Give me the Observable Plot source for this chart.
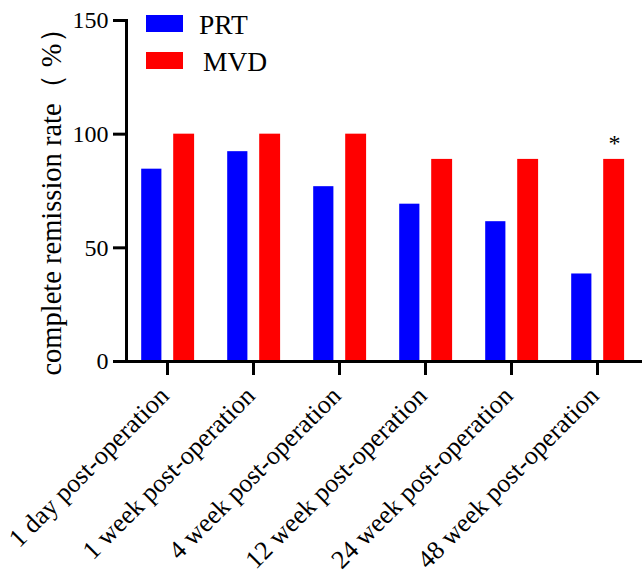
<!DOCTYPE html>
<html>
<head>
<meta charset="utf-8">
<script src="https://cdn.jsdelivr.net/npm/d3@7"></script>
<script src="https://cdn.jsdelivr.net/npm/@observablehq/plot@0.6"></script>
<style>
  body { margin: 0; background: #fff; }
  #chart { position: relative; width: 643px; height: 582px; font-family: "Liberation Serif", "Times New Roman", serif; color: #000; }
  #chart svg { position: absolute; left: 0; top: 0; }
  #chart svg text { font-family: "Liberation Serif", "Times New Roman", serif !important; stroke: none !important; }
  .legend { position: absolute; left: 146px; top: 0; }
  .legend .item { position: absolute; left: 0; white-space: nowrap; }
  .legend .swatch { position: absolute; left: 0; width: 37px; height: 17px; }
  .legend .name { position: absolute; font-size: 27.5px; line-height: 1; }
</style>
</head>
<body>
<div id="chart"></div>
<script>
// Time points after the operation
const timepoints = [
  "1 day post-operation",
  "1 week post-operation",
  "4 week post-operation",
  "12 week post-operation",
  "24 week post-operation",
  "48 week post-operation"
];
// Complete remission rate (%) per group
const prtRate = [84.6, 92.3, 76.9, 69.2, 61.5, 38.5];
const mvdRate = [100, 100, 100, 88.9, 88.9, 88.9];
// Significance markers shown above the MVD bars
const significance = ["", "", "", "", "", "*"];
const yTicks = [0, 50, 100, 150];
const yTitle = "complete remission rate（ %）";
const seriesNames = ["PRT", "MVD"];
const seriesColors = ["#0000ff", "#ff0000"];

const prtData = timepoints.map((t, i) => ({time: t, rate: prtRate[i]}));
const mvdData = timepoints.map((t, i) => ({time: t, rate: mvdRate[i], mark: significance[i]}));

const serif = "Liberation Serif";

const chart = Plot.plot({
  width: 643,
  height: 582,
  marginTop: 20,
  marginBottom: 221,
  marginLeft: 126,
  marginRight: 1,
  style: {fontFamily: "'Liberation Serif', serif", color: "#000", background: "transparent"},
  x: {domain: timepoints, range: [121, 642], padding: 0},
  y: {domain: [0, 150]},
  marks: [
    Plot.barY(prtData, {x: "time", y: "rate", fill: seriesColors[0], insetLeft: 17.2, insetRight: 48.6}),
    Plot.barY(mvdData, {x: "time", y: "rate", fill: seriesColors[1], insetLeft: 49.2, insetRight: 15.9}),
    Plot.text(mvdData, {x: "time", y: "rate", text: "mark", dx: 17, dy: -16, fontSize: 24, fontFamily: serif, fill: "#000"}),
    // y axis: thick ticks, then the tick labels on their own
    Plot.axisY({ticks: yTicks, tickSize: 13, strokeWidth: 3, fill: "none", label: null}),
    Plot.axisY({ticks: yTicks, tickSize: 0, tickPadding: 18, fontSize: 24, fontFamily: serif, label: null}),
    Plot.text([yTitle], {frameAnchor: "left", rotate: -90, textAnchor: "middle", dx: -75, dy: 4, fontSize: 28.5, fontFamily: serif, fill: "#000"}),
    // x axis: thick ticks, then the rotated category labels
    Plot.axisX({tickSize: 14, strokeWidth: 3, fill: "none", label: null}),
    Plot.axisX({tickSize: 0, tickPadding: 30, dx: -3, tickRotate: -45, fontSize: 26, fontFamily: serif, label: null}),
    Plot.frame({anchor: "left", strokeWidth: 3}),
    Plot.ruleY([0], {strokeWidth: 3})
  ]
});

// Serif face for every label in the chart
chart.querySelectorAll("text").forEach((t) => {
  t.style.setProperty("font-family", "'Liberation Serif', 'Times New Roman', serif", "important");
});

const root = document.getElementById("chart");
root.appendChild(chart);

// Legend in the upper left of the plot area
const legend = document.createElement("div");
legend.className = "legend";
const nameOffsets = [53, 57];
seriesNames.forEach((name, i) => {
  const item = document.createElement("div");
  item.className = "item";
  item.style.top = (14.5 + i * 37) + "px";
  const sw = document.createElement("div");
  sw.className = "swatch";
  sw.style.background = seriesColors[i];
  const label = document.createElement("div");
  label.className = "name";
  label.style.left = nameOffsets[i] + "px";
  label.style.top = "-4px";
  label.textContent = name;
  item.appendChild(sw);
  item.appendChild(label);
  legend.appendChild(item);
});
root.appendChild(legend);
</script>
</body>
</html>
